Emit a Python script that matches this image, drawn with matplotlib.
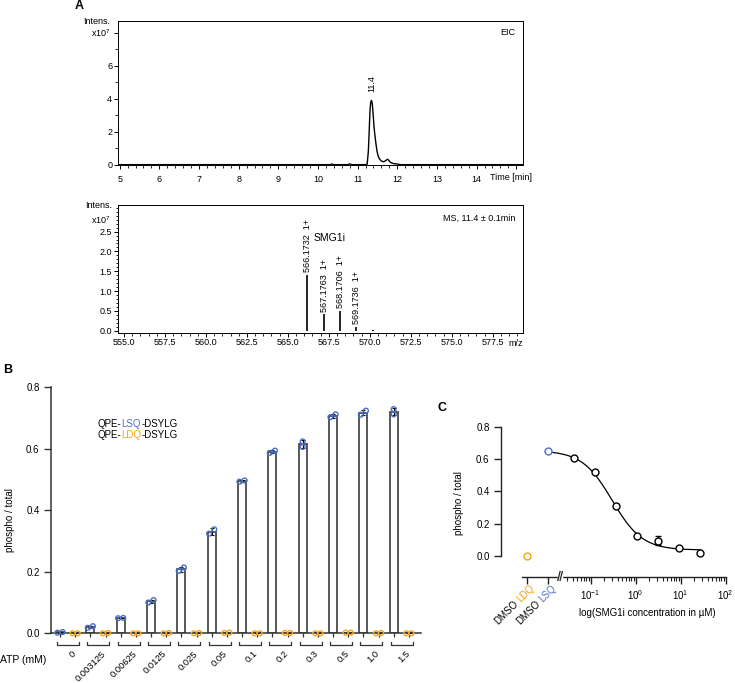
import numpy as np
import matplotlib
matplotlib.use('Agg')
import matplotlib.pyplot as plt
from matplotlib.ticker import MultipleLocator, FixedLocator
from matplotlib.transforms import offset_copy

plt.rcParams['font.family'] = ['Liberation Sans', 'DejaVu Sans']
plt.rcParams['mathtext.default'] = 'regular'

BLUE = '#4a70c6'
ORANGE = '#f5a31a'

# ---- data: panel A, extracted ion chromatogram (x10^7)
eic_time = [5.0, 10.3, 10.35, 10.4, 10.75, 10.8, 10.85, 11.2, 11.24, 11.27, 11.29, 11.31,
            11.33, 11.35, 11.37, 11.39, 11.41, 11.43, 11.46, 11.49, 11.52, 11.56, 11.6,
            11.64, 11.68, 11.72, 11.75, 11.78, 11.82, 11.86, 11.92, 12.0, 12.08, 15.2]
eic_int = [0, 0, 0.04, 0, 0, 0.05, 0, 0, 0.03, 0.8, 1.9, 3.2,
           3.8, 3.9, 3.7, 3.1, 2.4, 1.9, 1.3, 0.8, 0.5, 0.32, 0.22,
           0.18, 0.2, 0.27, 0.33, 0.28, 0.16, 0.1, 0.06, 0.04, 0.0, 0.0]

# ---- data: panel A, mass spectrum (x10^7)
ms_mz = [566.1732, 567.1763, 568.1706, 569.1736, 570.17]
ms_int = [1.41, 0.41, 0.50, 0.09, 0.02]
ms_labels = ['566.1732  1+', '567.1763  1+', '568.1706  1+', '569.1736  1+', '']

# ---- data: panel B, ATP titration
atp_labels = ['0', '0.003125', '0.00625', '0.0125', '0.025', '0.05',
              '0.1', '0.2', '0.3', '0.5', '1.0', '1.5']
lsq_rep1 = [0.002, 0.018, 0.049, 0.100, 0.203, 0.324, 0.493, 0.587, 0.606, 0.703, 0.711, 0.712]
lsq_rep2 = [0.004, 0.023, 0.050, 0.108, 0.214, 0.338, 0.497, 0.594, 0.624, 0.712, 0.724, 0.729]
ldq_rep1 = [0.000, 0.000, 0.000, 0.000, 0.000, 0.001, 0.000, 0.001, 0.000, 0.002, 0.000, 0.000]
ldq_rep2 = [0.000, 0.001, 0.000, 0.001, 0.001, 0.002, 0.000, 0.001, 0.000, 0.002, 0.001, 0.000]

# ---- data: panel C, SMG1i dose response
conc = [0.043, 0.125, 0.365, 1.09, 3.2, 9.2, 27.5]
ratio = [0.611, 0.524, 0.312, 0.125, 0.094, 0.046, 0.019]
ratio_sd = [0.006, 0.006, 0.008, 0.006, 0.030, 0.004, 0.004]
dmso_ldq = 0.0
dmso_lsq = 0.655
# fitted 4-parameter logistic
fit_top, fit_bottom, fit_ic50, fit_hill = 0.655, 0.035, 0.30, 1.3

W, H = 735, 683
fig = plt.figure(figsize=(W / 100, H / 100), dpi=100)


def fx(px):
    return px / W


def fy(py):
    return 1 - py / H


def box(l, t, r, b):
    return [fx(l), fy(b), (r - l) / W, (b - t) / H]


# ================= Panel A: EIC
ax1 = fig.add_axes(box(117.7, 21, 523, 165))
ax1.plot(eic_time, eic_int, color='k', lw=1.0)
ax1.set_xlim(4.95, 15.17)
ax1.set_ylim(-0.02, 8.72)
ax1.set_xticks(range(5, 16))
ax1.set_xticklabels([str(v) for v in range(5, 15)] + [''])
ax1.xaxis.set_minor_locator(MultipleLocator(0.2))
ax1.set_yticks([0, 2, 4, 6, 8])
ax1.set_yticklabels(['0', '2', '4', '6', ''])
ax1.yaxis.set_minor_locator(MultipleLocator(1))
ax1.tick_params(which='major', length=3, width=0.7, labelsize=6.5)
ax1.tick_params(axis='x', which='major', pad=4)
ax1.tick_params(axis='y', which='major', pad=1)
ax1.tick_params(which='minor', length=2, width=0.6)
for s in ax1.spines.values():
    s.set_linewidth(0.7)
ax1.text(11.35, 4.4, '11.4', rotation=90, ha='center', va='bottom', fontsize=6.5)
fig.text(fx(110), fy(21), 'Intens.', ha='right', va='center', fontsize=6.5)
fig.text(fx(111), fy(33.5), r'x10$^7$', ha='right', va='center', fontsize=6.5)
fig.text(fx(515.5), fy(32.3), 'EIC', ha='right', va='center', fontsize=6.5)
fig.text(fx(490), fy(177.7), 'Time [min]', ha='left', va='center', fontsize=6.5)

# ================= Panel A: MS
ax2 = fig.add_axes(box(117.7, 205, 523, 332.7))
ax2.vlines(ms_mz, 0, ms_int, color='k', lw=1.2)
ax2.set_xlim(554.62, 579.34)
ax2.set_ylim(-0.05, 3.17)
ax2.xaxis.set_major_locator(MultipleLocator(2.5))
ax2.xaxis.set_major_formatter(matplotlib.ticker.FormatStrFormatter('%.1f'))
ax2.xaxis.set_minor_locator(MultipleLocator(0.5))
ax2.set_yticks([0, 0.5, 1.0, 1.5, 2.0, 2.5])
ax2.yaxis.set_major_formatter(matplotlib.ticker.FormatStrFormatter('%.1f'))
ax2.yaxis.set_minor_locator(MultipleLocator(0.1))
ax2.tick_params(which='major', length=3, width=0.7, labelsize=6.5)
ax2.tick_params(axis='x', which='major', pad=1)
ax2.tick_params(axis='y', which='major', pad=1)
ax2.tick_params(which='minor', length=1.8, width=0.6)
for s in ax2.spines.values():
    s.set_linewidth(0.7)
for mz, h, lab in zip(ms_mz, ms_int, ms_labels):
    if lab:
        ax2.text(mz + 0.03, h + 0.07, lab, rotation=90, ha='center', va='bottom', fontsize=6.5)
ax2.text(566.55, 2.35, 'SMG1i', ha='left', va='center', fontsize=7.5)
fig.text(fx(111.7), fy(206), 'Intens.', ha='right', va='center', fontsize=6.5)
fig.text(fx(111), fy(220.5), r'x10$^7$', ha='right', va='center', fontsize=6.5)
fig.text(fx(515.7), fy(218.3), 'MS, 11.4 ± 0.1min', ha='right', va='center', fontsize=6.5)
fig.text(fx(516), fy(343.3), 'm/z', ha='center', va='center', fontsize=6.5)

# ================= Panel B: bars
ax3 = fig.add_axes(box(50.7, 387.3, 421, 633.3))
n = len(atp_labels)
pos_lsq = np.arange(n) * 2.0
pos_ldq = pos_lsq + 1
lsq_mean = (np.array(lsq_rep1) + np.array(lsq_rep2)) / 2
ldq_mean = (np.array(ldq_rep1) + np.array(ldq_rep2)) / 2
lsq_sd = np.abs(np.array(lsq_rep1) - np.array(lsq_rep2)) / np.sqrt(2)
ldq_sd = np.abs(np.array(ldq_rep1) - np.array(ldq_rep2)) / np.sqrt(2)

for pos, mean, sd, r1, r2, col in [(pos_lsq, lsq_mean, lsq_sd, lsq_rep1, lsq_rep2, BLUE),
                                    (pos_ldq, ldq_mean, ldq_sd, ldq_rep1, ldq_rep2, ORANGE)]:
    ax3.bar(pos, mean, width=0.53, facecolor='white', edgecolor='#4a4a4a', linewidth=1.3, zorder=2)
    ax3.errorbar(pos, mean, yerr=sd, fmt='none', ecolor='k', elinewidth=0.8,
                 capsize=1.6, capthick=0.8, zorder=3)
    r1 = np.array(r1)
    r2 = np.array(r2)
    # circles overlap -> shift them sideways, otherwise stack them
    shift = np.where(np.abs(r1 - r2) > 0.015, 0.0, 0.17)
    ax3.scatter(np.concatenate([pos - shift, pos + shift]), np.concatenate([r1, r2]),
                s=12, facecolors='none', edgecolors=col, linewidths=1.0, zorder=4, clip_on=False)

ax3.set_xlim(-0.613, 23.8)
ax3.set_ylim(0, 0.8)
ax3.set_yticks([0, 0.2, 0.4, 0.6, 0.8])
ax3.yaxis.set_major_formatter(matplotlib.ticker.FormatStrFormatter('%.1f'))
ax3.set_xticks(np.sort(np.concatenate([pos_lsq, pos_ldq])))
ax3.set_xticklabels([])
ax3.tick_params(axis='y', length=5, width=1.0, labelsize=7, pad=3, color='#333333')
ax3.tick_params(axis='x', length=3, width=0.9, color='#333333')
ax3.spines['top'].set_visible(False)
ax3.spines['right'].set_visible(False)
for s in ['left', 'bottom']:
    ax3.spines[s].set_linewidth(1.1)
    ax3.spines[s].set_color('#333333')

xt = ax3.get_xaxis_transform()
for g in range(n):
    x0, x1 = pos_lsq[g] - 0.2, pos_ldq[g] + 0.25
    ax3.plot([x0, x0, x1, x1], [-0.034, -0.049, -0.049, -0.034], color='#333333', lw=0.9,
             transform=xt, clip_on=False)
    ax3.text(pos_lsq[g] + 0.75, -0.064, atp_labels[g], rotation=45, ha='right', va='top',
             rotation_mode='anchor', fontsize=6.7, transform=xt)

fig.text(fx(0), fy(660), 'ATP (mM)', ha='left', va='center', fontsize=7.5)
fig.text(fx(10), fy(520), 'phospho / total', rotation=90, ha='center', va='center', fontsize=7)

t = ax3.text(fx(98), fy(424), 'QPE-', fontsize=7, transform=fig.transFigure, va='center')
t = ax3.annotate('LSQ', xy=(1, 0), xycoords=t, va='bottom', color=BLUE, fontsize=7)
ax3.annotate('-DSYLG', xy=(1, 0), xycoords=t, va='bottom', fontsize=7)
t = ax3.text(fx(98), fy(434.5), 'QPE-', fontsize=7, transform=fig.transFigure, va='center')
t = ax3.annotate('LDQ', xy=(1, 0), xycoords=t, va='bottom', color=ORANGE, fontsize=7)
ax3.annotate('-DSYLG', xy=(1, 0), xycoords=t, va='bottom', fontsize=7)

# ================= Panel C: dose response
ax4 = fig.add_axes(box(500.7, 427.3, 725.7, 576.7))
x_ldq, x_lsq = -2.42, -1.94
lx = np.log10(conc)
xs = np.linspace(-1.84, lx[-1], 300)
ys = fit_bottom + (fit_top - fit_bottom) / (1 + (10 ** xs / fit_ic50) ** fit_hill)
ax4.plot(xs, ys, color='k', lw=0.9, zorder=2)
ax4.errorbar(lx, ratio, yerr=ratio_sd, fmt='o', mfc='white', mec='k', ms=5, mew=1.0,
             ecolor='k', elinewidth=0.9, capsize=2.5, capthick=0.9, zorder=3)
ax4.plot([x_ldq], [dmso_ldq], 'o', mfc='none', mec=ORANGE, ms=5, mew=1.0, clip_on=False)
ax4.plot([x_lsq], [dmso_lsq], 'o', mfc='none', mec=BLUE, ms=5, mew=1.0, clip_on=False)

ax4.set_xlim(-3.0, 2.0)
ax4.set_ylim(-0.131, 0.8)
ax4.spines['top'].set_visible(False)
ax4.spines['right'].set_visible(False)
ax4.spines['left'].set_bounds(0, 0.8)
ax4.spines['bottom'].set_bounds(-2.52, 2.0)
for s in ['left', 'bottom']:
    ax4.spines[s].set_linewidth(1.0)
    ax4.spines[s].set_color('#222222')
ax4.set_yticks([0, 0.2, 0.4, 0.6, 0.8])
ax4.yaxis.set_major_formatter(matplotlib.ticker.FormatStrFormatter('%.1f'))
ax4.set_xticks([x_ldq, x_lsq, -1, 0, 1, 2])
ax4.set_xticklabels(['', '', r'$10^{-1}$', r'$10^{0}$', r'$10^{1}$', r'$10^{2}$'])
minor = [np.log10(k * 10.0 ** e) for e in range(-2, 2) for k in range(2, 10)]
ax4.xaxis.set_minor_locator(FixedLocator([m for m in minor if m > -1.6]))
ax4.tick_params(which='major', length=5, width=1.0, labelsize=7, pad=3, color='#222222')
ax4.tick_params(which='minor', length=3, width=0.8, color='#222222')

# axis break marks
bt = ax4.get_xaxis_transform()
ax4.plot([-1.705, -1.655], [0, 0], color='white', lw=2.5, transform=bt, clip_on=False, zorder=5)
for xb in [-1.73, -1.68]:
    ax4.plot([xb, xb + 0.05], [-0.025, 0.035], color='#222222', lw=0.9, transform=bt,
             clip_on=False, zorder=6)

renderer = fig.canvas.get_renderer()


def two_color_rotated(ax, x, y, first, second, color2, size):
    trans = ax.get_xaxis_transform()
    ax.text(x, y, second, color=color2, fontsize=size, rotation=45, ha='right', va='top',
            rotation_mode='anchor', transform=trans)
    probe = fig.text(0, 0, second, fontsize=size)
    w = probe.get_window_extent(renderer).width + size * 0.28 * 100 / 72
    probe.remove()
    d = w / np.sqrt(2)
    trans2 = offset_copy(trans, fig=fig, x=-d, y=-d, units='dots')
    ax.text(x, y, first, fontsize=size, rotation=45, ha='right', va='top',
            rotation_mode='anchor', transform=trans2)


two_color_rotated(ax4, x_ldq + 0.05, -0.04, 'DMSO', 'LDQ', ORANGE, 7)
two_color_rotated(ax4, x_lsq + 0.05, -0.04, 'DMSO', 'LSQ', BLUE, 7)

fig.text(fx(647.5), fy(612.7), 'log(SMG1i concentration in µM)', ha='center', va='center', fontsize=7)
fig.text(fx(459.3), fy(503), 'phospho / total', rotation=90, ha='center', va='center', fontsize=7)

# panel letters
fig.text(fx(79), fy(6), 'A', fontsize=9, fontweight='bold', ha='center', va='center')
fig.text(fx(8), fy(370), 'B', fontsize=9, fontweight='bold', ha='center', va='center')
fig.text(fx(442), fy(408), 'C', fontsize=9, fontweight='bold', ha='center', va='center')

fig.savefig('out.png', dpi=100)
